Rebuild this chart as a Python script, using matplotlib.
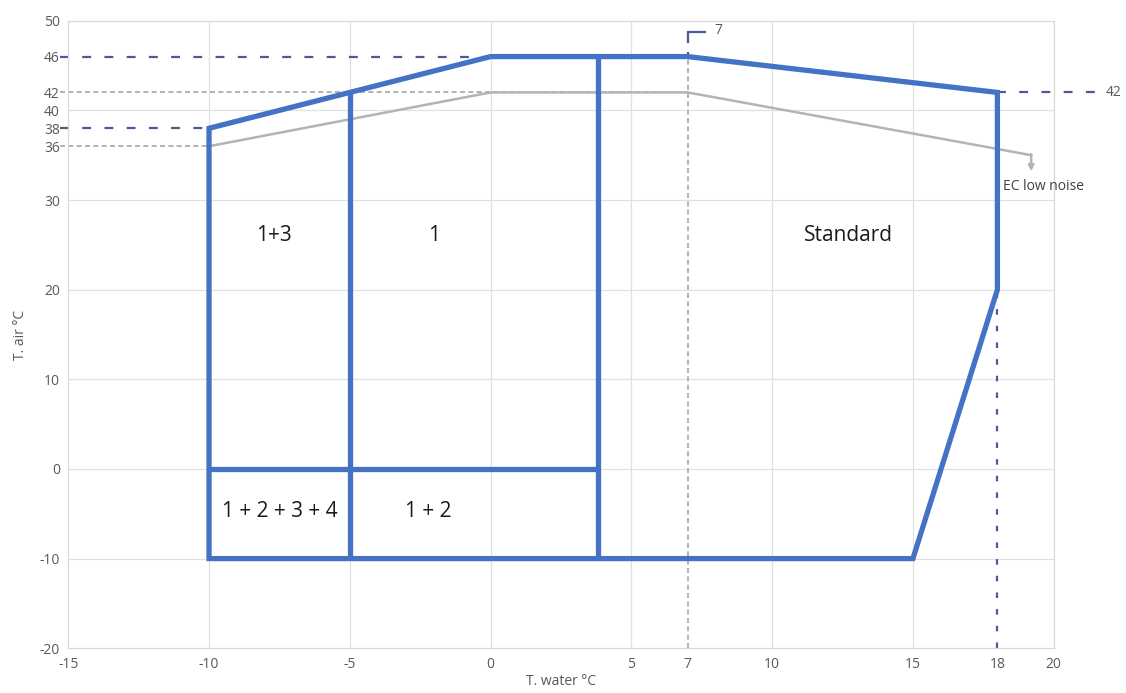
import matplotlib
matplotlib.use("Agg")
import matplotlib.pyplot as plt
from matplotlib.patches import Polygon

plt.rcParams['font.family'] = ['Open Sans', 'DejaVu Sans']

# Operating envelope (blue)
env_x = [-10, -10, -5, 0, 7, 18, 18, 15]
env_y = [-10, 38, 42, 46, 46, 42, 20, -10]
# Internal dividers
div1_x = [-5, -5]; div1_y = [-10, 42]
div2_x = [3.8, 3.8]; div2_y = [-10, 46]
div3_x = [-10, 3.8]; div3_y = [0, 0]
# EC low noise envelope (gray)
ec_x = [-10, 0, 7, 18, 19.2]
ec_y = [36, 42, 42, 35.7, 35.0]
ec_arrow_end = 33.2

# Ticks
xticks = [-15, -10, -5, 0, 5, 7, 10, 15, 18, 20]
yticks = [-20, -10, 0, 10, 20, 30, 36, 38, 40, 42, 46, 50]

# Region labels
regions = [("1+3", -7.7, 26), ("1", -2.0, 26), ("Standard", 12.7, 26),
           ("1 + 2 + 3 + 4", -7.5, -4.7), ("1 + 2", -2.2, -4.7)]

BLUE = '#4472C4'
NAVY = '#4B5A9C'
GRAY = '#A5A5A5'
TXT = '#595959'

fig = plt.figure(figsize=(11.26, 6.93), dpi=100)
ax = fig.add_axes([0.0606, 0.0646, 0.8752, 0.9055])
ax.set_xlim(-15, 20)
ax.set_ylim(-20, 50)

# gridlines
for gx in [-10, -5, 0, 5, 10, 15, 20]:
    ax.axvline(gx, color='#E0E0E0', lw=0.9, zorder=0)
for gy in [-10, 0, 10, 20, 30, 40, 50]:
    ax.axhline(gy, color='#E0E0E0', lw=0.9, zorder=0)
for s in ax.spines.values():
    s.set_color('#D9D9D9')
    s.set_linewidth(0.9)

# reference dashed lines
ax.plot([-15.3, 0], [46, 46], color=NAVY, lw=1.6, ls=(0, (4, 6)), clip_on=False, zorder=2)
ax.plot([-15.3, -10], [38, 38], color=NAVY, lw=1.6, ls=(0, (4, 6)), clip_on=False, zorder=2)
ax.plot([18, 21.6], [42, 42], color=NAVY, lw=1.6, ls=(0, (4, 6)), clip_on=False, zorder=2)
ax.plot([18, 18], [-20, 20], color=NAVY, lw=1.6, ls=(0, (2.5, 5)), zorder=2)
ax.plot([-15.3, 7], [42, 42], color=GRAY, lw=1.2, ls=(0, (3, 2)), clip_on=False, zorder=2)
ax.plot([-15.3, -10], [36, 36], color=GRAY, lw=1.2, ls=(0, (3, 2)), clip_on=False, zorder=2)
ax.plot([7, 7], [-20, 46], color=GRAY, lw=1.2, ls=(0, (3, 2)), zorder=2)
ax.plot([7.0, 7.0], [48.7, 46], color=NAVY, lw=1.6, ls=(0, (5, 4)), zorder=2)
ax.plot([7.0, 7.6], [48.7, 48.7], color=NAVY, lw=1.6, zorder=2)
ax.text(7.95, 48.9, "7", color=TXT, fontsize=10, va='center', ha='left')
ax.text(21.85, 42, "42", color=TXT, fontsize=10, va='center', ha='left', clip_on=False)

# EC low noise
ax.plot(ec_x, ec_y, color='#B4B4B4', lw=1.8, zorder=3, solid_joinstyle='miter')
ax.annotate("", xy=(ec_x[-1], ec_arrow_end), xytext=(ec_x[-1], ec_y[-1] + 0.1),
            arrowprops=dict(arrowstyle='-|>', color='#B4B4B4', lw=1.8,
                            mutation_scale=8, shrinkA=0, shrinkB=0))
ax.text(18.2, 31.5, "EC low noise", color='#404040', fontsize=10, va='center', ha='left')

# envelope and dividers
kw = dict(color=BLUE, lw=3.8, zorder=4, solid_joinstyle='miter', solid_capstyle='butt')
ax.add_patch(Polygon(list(zip(env_x, env_y)), closed=True, fill=False,
                     edgecolor=BLUE, lw=3.8, joinstyle='miter', zorder=4))
ax.plot(div1_x, div1_y, **kw)
ax.plot(div2_x, div2_y, **kw)
ax.plot(div3_x, div3_y, **kw)

for t, x, y in regions:
    ax.text(x, y, t, fontsize=15, color='#1a1a1a', ha='center', va='center')

ax.set_xticks(xticks)
ax.set_yticks(yticks)
ax.set_xticklabels([str(v) for v in xticks])
ax.set_yticklabels([str(v) for v in yticks])
ax.tick_params(length=0, colors=TXT, labelsize=10, pad=6)
ax.set_xlabel("T. water °C", color=TXT, fontsize=10, labelpad=2)
ax.set_ylabel("T. air °C", color=TXT, fontsize=10, labelpad=8)

fig.savefig("out.png", dpi=100)
